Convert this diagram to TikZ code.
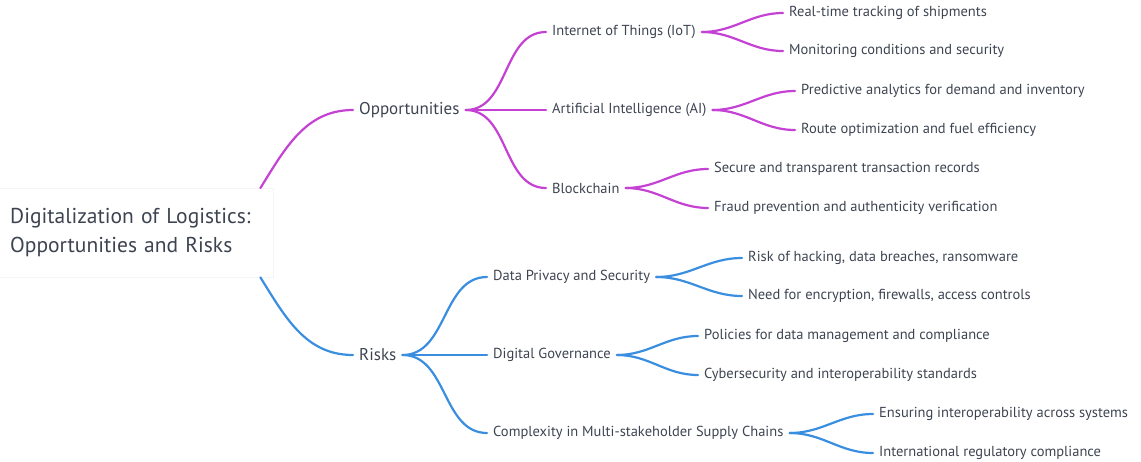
\documentclass[tikz,border=0pt]{standalone}
\usepackage{fontspec}
\setmainfont{PT Sans}
\usetikzlibrary{positioning}
\definecolor{txtgray}{HTML}{3D4451}
\definecolor{oppmag}{HTML}{C441D4}
\definecolor{riskblue}{HTML}{3A8EE0}

\begin{document}
\begin{tikzpicture}[x=1pt, y=-1pt,
  every node/.style={font=\fontsize{14.5}{17}\selectfont, text=txtgray, anchor=west, inner xsep=6pt, inner ysep=2pt},
  topic/.style={font=\fontsize{17}{20}\selectfont},
  branch/.style={line width=2.2pt, line cap=round},
  oppline/.style={branch, draw=oppmag},
  riskline/.style={branch, draw=riskblue}]
  \useasboundingbox (0,0) rectangle (1141,461);
  % root
  \node (root) [anchor=north west, draw=black!4, fill=white, inner xsep=15pt,
    text width=248pt, minimum height=89pt, align=left,
    font=\fontsize{21.5}{29}\selectfont] at (-5,188)
    {Digitalization of Logistics:\\Opportunities and Risks};
  % main topics
  \node (opp) [topic] at (353,110) {Opportunities};
  \node (risk) [topic] at (353,355) {Risks};
  % opportunities
  \node (iot) at (546,32) {Internet of Things (IoT)};
  \node (ai) at (546,110) {Artificial Intelligence (AI)};
  \node (bc) at (546,188) {Blockchain};
  \node (iot1) at (783,13) {Real-time tracking of shipments};
  \node (iot2) at (783,51) {Monitoring conditions and security};
  \node (ai1) at (795,91) {Predictive analytics for demand and inventory};
  \node (ai2) at (795,130) {Route optimization and fuel efficiency};
  \node (bc1) at (708,169) {Secure and transparent transaction records};
  \node (bc2) at (708,208) {Fraud prevention and authenticity verification};
  % risks
  \node (dps) at (487,277) {Data Privacy and Security};
  \node (gov) at (487,355) {Digital Governance};
  \node (cx) at (487,433) {Complexity in Multi-stakeholder Supply Chains};
  \node (dps1) at (742,258) {Risk of hacking, data breaches, ransomware};
  \node (dps2) at (742,296) {Need for encryption, firewalls, access controls};
  \node (gov1) at (698,336) {Policies for data management and compliance};
  \node (gov2) at (698,375) {Cybersecurity and interoperability standards};
  \node (cx1) at (873,414) {Ensuring interoperability across systems};
  \node (cx2) at (873,453) {International regulatory compliance};
  % connectors
  \draw[oppline] ([xshift=-13pt]root.north east) to[out=58,in=180] (opp.west);
  \draw[riskline] ([xshift=-13pt]root.south east) to[out=-58,in=180] (risk.west);
  \foreach \a/\b in {opp/iot, opp/ai, opp/bc, iot/iot1, iot/iot2, ai/ai1, ai/ai2, bc/bc1, bc/bc2}
    \draw[oppline] (\a.east) to[out=0,in=180] (\b.west);
  \foreach \a/\b in {risk/dps, risk/gov, risk/cx, dps/dps1, dps/dps2, gov/gov1, gov/gov2, cx/cx1, cx/cx2}
    \draw[riskline] (\a.east) to[out=0,in=180] (\b.west);
\end{tikzpicture}
\end{document}
